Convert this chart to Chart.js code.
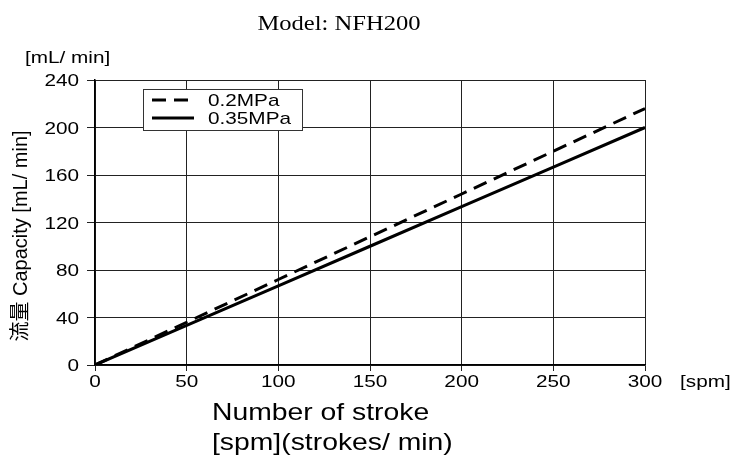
<!DOCTYPE html>
<html>
<head>
<meta charset="utf-8">
<script src="https://cdn.jsdelivr.net/npm/chart.js@4.4.0/dist/chart.umd.min.js"></script>
<style>
  html, body { margin: 0; padding: 0; background: #fff; }
  #wrap { width: 747px; height: 457px; }
</style>
</head>
<body>
<div id="wrap"><canvas id="flowChart" width="747" height="457"></canvas></div>
<script>
// stroke rate [spm]
const strokes = [0, 50, 100, 150, 200, 250, 300];
// flow at 0.2MPa (dashed)
const flow02 = [0, 36, 72, 108, 144, 180, 216];
// flow at 0.35MPa (solid)
const flow035 = [0, 33.3, 66.7, 100, 133.3, 166.7, 200];
const seriesNames = ['0.2MPa', '0.35MPa'];

const FONT = '"Liberation Sans", Arial, sans-serif';
const SX = 1.22; // the original lettering is a bit wide

// text drawn horizontally stretched
function wideText(c, txt, x, y, align, sx) {
    c.save();
    c.translate(x, y);
    c.scale(sx, 1);
    c.textAlign = align;
    c.textBaseline = 'alphabetic';
    c.fillText(txt, 0, 0);
    c.restore();
}

const decorations = {
    id: 'decorations',
    afterDraw(chart) {
        const c = chart.ctx;
        const xs = chart.scales.x, ys = chart.scales.y;
        c.save();
        c.fillStyle = '#000';

        // tick labels through the scales
        c.font = '17px ' + FONT;
        xs.ticks.forEach(t => {
            wideText(c, String(t.value), xs.getPixelForValue(t.value), 387, 'center', SX);
        });
        ys.ticks.forEach(t => {
            wideText(c, String(t.value), 79, ys.getPixelForValue(t.value) + 6, 'right', SX);
        });

        c.font = '21px "Liberation Serif", "Times New Roman", serif';
        wideText(c, 'Model: NFH200', 339, 30, 'center', 1.17);

        c.font = '17px ' + FONT;
        wideText(c, '[mL/ min]', 25, 63, 'left', SX);
        wideText(c, '[spm]', 680, 387, 'left', SX);

        // y axis title
        c.save();
        c.translate(27, 236);
        c.rotate(-Math.PI / 2);
        c.textAlign = 'center';
        c.textBaseline = 'alphabetic';
        c.font = '20px ' + FONT + ', "Noto Sans CJK JP"';
        c.fillText('流量 Capacity [mL/ min]', 0, 0);
        c.restore();

        // x axis title
        c.font = '24px ' + FONT;
        wideText(c, 'Number of stroke', 212, 420, 'left', 1.18);
        wideText(c, '[spm](strokes/ min)', 212, 450, 'left', 1.18);

        // legend box
        const bx = 143, by = 89, bw = 159, bh = 41;
        c.fillStyle = '#fff';
        c.fillRect(bx, by, bw, bh);
        c.strokeStyle = '#333';
        c.lineWidth = 1;
        c.strokeRect(bx + 0.5, by + 0.5, bw, bh);
        chart.data.datasets.forEach((ds, i) => {
            const y = by + 11 + i * 18;
            c.beginPath();
            c.setLineDash(ds.borderDash || []);
            c.lineWidth = ds.borderWidth;
            c.strokeStyle = ds.borderColor;
            c.moveTo(bx + 9, y);
            c.lineTo(bx + 51, y);
            c.stroke();
            c.setLineDash([]);
            c.fillStyle = '#000';
            c.font = '17px ' + FONT;
            wideText(c, ds.label, bx + 65, y + 6, 'left', SX);
        });
        c.restore();
    }
};

new Chart(document.getElementById('flowChart'), {
    type: 'line',
    data: {
        labels: strokes,
        datasets: [
            {
                label: seriesNames[0],
                data: strokes.map((s, i) => ({ x: s, y: flow02[i] })),
                borderColor: '#000',
                borderWidth: 3,
                borderDash: [14, 8],
                pointRadius: 0,
                fill: false
            },
            {
                label: seriesNames[1],
                data: strokes.map((s, i) => ({ x: s, y: flow035[i] })),
                borderColor: '#000',
                borderWidth: 3,
                pointRadius: 0,
                fill: false
            }
        ]
    },
    options: {
        responsive: false,
        animation: false,
        layout: { padding: { left: 0, top: 80, right: 102, bottom: 0 } },
        plugins: {
            legend: { display: false },
            tooltip: { enabled: false },
            title: { display: false }
        },
        scales: {
            x: {
                type: 'linear',
                min: 0,
                max: 300,
                afterFit(scale) { scale.height = 92; },
                ticks: {
                    stepSize: 50,
                    color: 'rgba(0,0,0,0)',
                    padding: 2,
                    maxRotation: 0,
                    font: { family: FONT, size: 17 }
                },
                grid: { color: '#222', lineWidth: 1, tickLength: 6 },
                border: { color: '#000', width: 1.5 }
            },
            y: {
                min: 0,
                max: 240,
                afterFit(scale) { scale.width = 95; },
                ticks: {
                    stepSize: 40,
                    color: 'rgba(0,0,0,0)',
                    padding: 5,
                    font: { family: FONT, size: 17 }
                },
                grid: { color: '#222', lineWidth: 1, tickLength: 8 },
                border: { color: '#000', width: 1.5 }
            }
        }
    },
    plugins: [decorations]
});
</script>
</body>
</html>
